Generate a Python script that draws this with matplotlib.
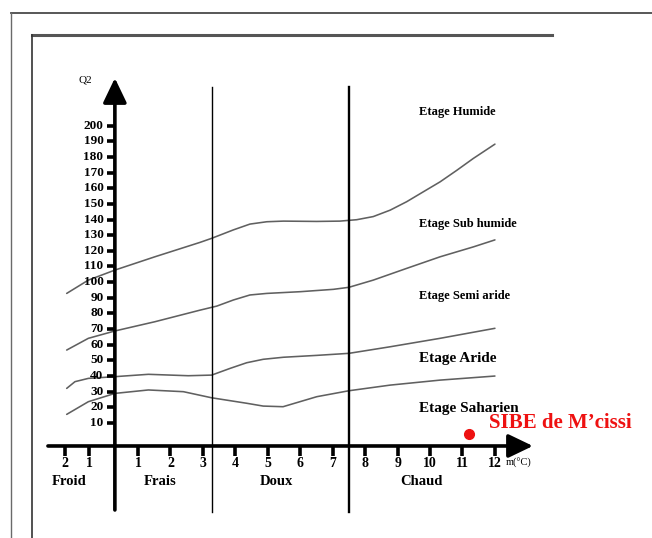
import numpy as np
import matplotlib
matplotlib.use("Agg")
import matplotlib.pyplot as plt
from matplotlib.lines import Line2D

plt.rcParams['font.family'] = ['Liberation Serif', 'DejaVu Serif']

# --- data (m in degC, Q2 = Emberger quotient) ---
m_hum = [-1.93, -1.04, 0.05, 1.52, 2.91, 3.27, 3.94, 4.45, 4.97, 5.48, 6.51,
         7.22, 7.74, 8.25, 8.77, 9.28, 9.79, 10.31, 10.82, 11.33, 12.0]
q_hum = [92.8, 101.3, 107.7, 116.2, 125.4, 128, 133.4, 137.1, 138.6, 139, 138.8,
         139, 139.9, 141.9, 146, 151.4, 157.7, 164.1, 171.4, 179, 188.2]

m_sub = [-1.93, -1.04, 0.05, 1.52, 2.91, 3.43, 3.94, 4.45, 4.97, 6.0, 7.02,
         7.5, 8.25, 9.28, 10.31, 11.33, 12.0]
q_sub = [56.6, 64.1, 68.8, 74.7, 82.1, 84.7, 88.6, 91.8, 92.8, 93.9, 95.4,
         96.7, 101.3, 108.8, 116.2, 122.5, 127]

m_semi = [-1.93, -1.59, -1.04, 0.05, 1.32, 2.55, 3.27, 3.84, 4.35, 4.86, 5.48,
          6.51, 7.5, 8.77, 10.31, 12.0]
q_semi = [32.1, 36.4, 38.5, 39.6, 41.1, 40.2, 40.6, 44.9, 48.5, 50.7, 52,
          53.2, 54.5, 58.7, 64.1, 70.5]

m_arid = [-1.93, -1.04, 0.05, 1.32, 2.4, 3.27, 4.35, 4.86, 5.47, 5.99, 6.51,
          7.5, 8.77, 10.31, 12.0]
q_arid = [15.5, 23.6, 28.9, 31.1, 30.0, 26.1, 22.6, 20.8, 20.4, 23.6, 26.8,
          30.6, 34.2, 37.4, 40.0]

zone_bounds = [3.28, 7.5]
zone_names = ["Froid", "Frais", "Doux", "Chaud"]
zone_centers = [-1.83, 1.68, 5.28, 9.75]

etage_names = ["Etage Humide", "Etage Sub humide", "Etage Semi aride", "Etage Aride", "Etage Saharien"]
etage_q = [209, 137, 91, 51.5, 19]

x_ticks = [-2, -1, 1, 2, 3, 4, 5, 6, 7, 8, 9, 10, 11, 12]
x_tick_labels = ["2", "1", "1", "2", "3", "4", "5", "6", "7", "8", "9", "10", "11", "12"]
y_ticks = list(range(10, 201, 10))

site_name = "SIBE de M\u2019cissi"
site_m = 11.2
site_q = 3


def fwd(m):
    m = np.asarray(m, dtype=float)
    return np.where(m < 1, 0.75 * (m - 1), m - 1)


def inv(f):
    f = np.asarray(f, dtype=float)
    return np.where(f < 0, f / 0.75 + 1, f + 1)


fig = plt.figure(figsize=(6.52, 5.38), dpi=100)
ax = fig.add_axes([0, 0, 1, 1])
ax.set_xscale('function', functions=(fwd, inv))
ax.set_xlim(-4.67, 16.84)
ax.set_ylim(-63.5, 280.3)
ax.axis('off')

# page frames (figure pixel coords)
W, H = 652, 538
def fl(x0, y0, x1, y1, **kw):
    fig.add_artist(Line2D([x0 / W, x1 / W], [1 - y0 / H, 1 - y1 / H],
                          transform=fig.transFigure, **kw))

fl(11, 13, 652, 13, color='#4a4a4a', lw=1.3)
fl(11, 13, 11, 538, color='#6a6a6a', lw=1.0)
fl(32, 35, 552, 35, color='#555555', lw=2.2)
fl(32, 35, 32, 538, color='#333333', lw=1.2)

# curves
for mm, qq in [(m_hum, q_hum), (m_sub, q_sub), (m_semi, q_semi), (m_arid, q_arid)]:
    ax.plot(mm, qq, color='#606060', lw=1.15, solid_capstyle='round',
            solid_joinstyle='round')

# zone dividers
ax.plot([zone_bounds[0]] * 2, [-47, 224.6], color='black', lw=1.0)
ax.plot([zone_bounds[1]] * 2, [-47, 224.6], color='black', lw=1.7)

# axes with arrows
arrow = dict(arrowstyle='-|>,head_length=0.75,head_width=0.36', lw=2.6,
             color='black', shrinkA=0, shrinkB=0, mutation_scale=20)
ax.annotate("", xy=(0.05, 230.4), xytext=(0.05, -45.6), arrowprops=arrow)
ax.annotate("", xy=(13.17, -4.7), xytext=(-2.7, -4.7), arrowprops=arrow)

# y ticks
for q in y_ticks:
    ax.plot([-0.27, 0.05], [q, q], color='black', lw=2.6, solid_capstyle='butt')
    ax.text(-0.42, q, str(q), ha='right', va='center', fontsize=9.5, fontweight='bold')
ax.text(-1.18, 229, "Q2", ha='center', va='center', fontsize=8)

# x ticks
for m, lab in zip(x_ticks, x_tick_labels):
    ax.plot([m, m], [-4.7, -11.3], color='black', lw=2.6, solid_capstyle='butt')
    ax.text(m, -15.8, lab, ha='center', va='center', fontsize=10, fontweight='bold')
ax.text(12.34, -15.6, "m(\u00b0C)", ha='left', va='center', fontsize=7.5)

for name, c in zip(zone_names, zone_centers):
    ax.text(c, -27.2, name, ha='center', va='center', fontsize=10.5, fontweight='bold')

for i, (name, q) in enumerate(zip(etage_names, etage_q)):
    ax.text(9.66, q, name, ha='left', va='center',
            fontsize=9 if i < 3 else 11, fontweight='bold')

# site
ax.plot(site_m, site_q, 'o', color='#ee1111', ms=7)
ax.text(11.82, 10, site_name, ha='left', va='center', fontsize=15,
        fontweight='bold', color='#ee1111')

fig.savefig("out.png", dpi=100)
